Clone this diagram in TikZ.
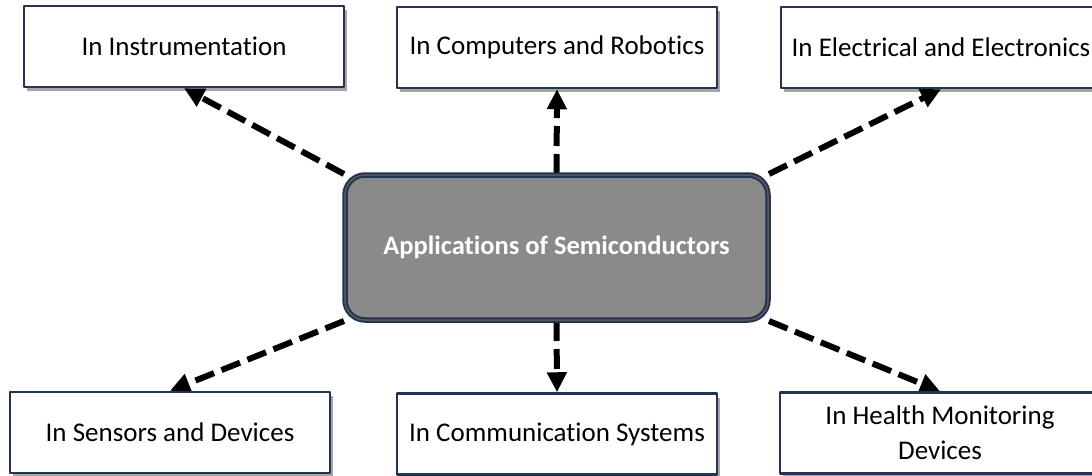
\documentclass[tikz,border=0pt]{standalone}
\usepackage{fontspec}
\setmainfont{Carlito}[Ligatures={NoCommon}]
\usetikzlibrary{arrows.meta,shadows,backgrounds}
\definecolor{boxline}{HTML}{243352}
\definecolor{appfill}{HTML}{8A8A8A}
\tikzset{
  appbox/.style={draw=boxline,line width=2.5pt,fill=white,minimum width=320pt,minimum height=81pt,
    align=center,font=\fontsize{27}{35}\selectfont,inner sep=3pt,
    drop shadow={shadow xshift=3pt,shadow yshift=-4pt,fill=black,opacity=0.35}},
  mainbox/.style={draw=boxline,line width=2pt,fill=appfill,rounded corners=20pt,
    minimum width=423pt,minimum height=145pt,text=white,
    font=\bfseries\fontsize{26.5}{30}\selectfont,
    double=gray!70!black,double distance=1.5pt},
  link/.style={line width=6pt,dash pattern=on 20pt off 8pt,-{Triangle[length=20pt,width=19pt]}}
}
\begin{document}
\begin{tikzpicture}[x=1pt,y=1pt,line join=round]
\useasboundingbox (0,0) rectangle (1092,475);
\path
(184,428.5) node[appbox] (instr) {In Instrumentation}
(557,427.5) node[appbox] (comp) {In Computers and Robotics}
(941,427.5) node[appbox] (elec) {In Electrical and Electronics}
(556.5,227.5) node[mainbox] (apps) {Applications of Semiconductors}
(170,42.5) node[appbox] (sens) {In Sensors and Devices}
(557,41) node[appbox] (comm) {In Communication Systems}
(940,42) node[appbox] (health) {In Health Monitoring\\Devices}
;
\begin{pgfonlayer}{background}
\draw[link] (apps.north west) -- (instr.south);
\draw[link] (apps.north) -- (comp.south);
\draw[link] (apps.north east) -- (elec.south);
\draw[link] (apps.south west) -- (sens.north);
\draw[link] (apps.south) -- (comm.north);
\draw[link] (apps.south east) -- (health.north);
\end{pgfonlayer}
\end{tikzpicture}
\end{document}
